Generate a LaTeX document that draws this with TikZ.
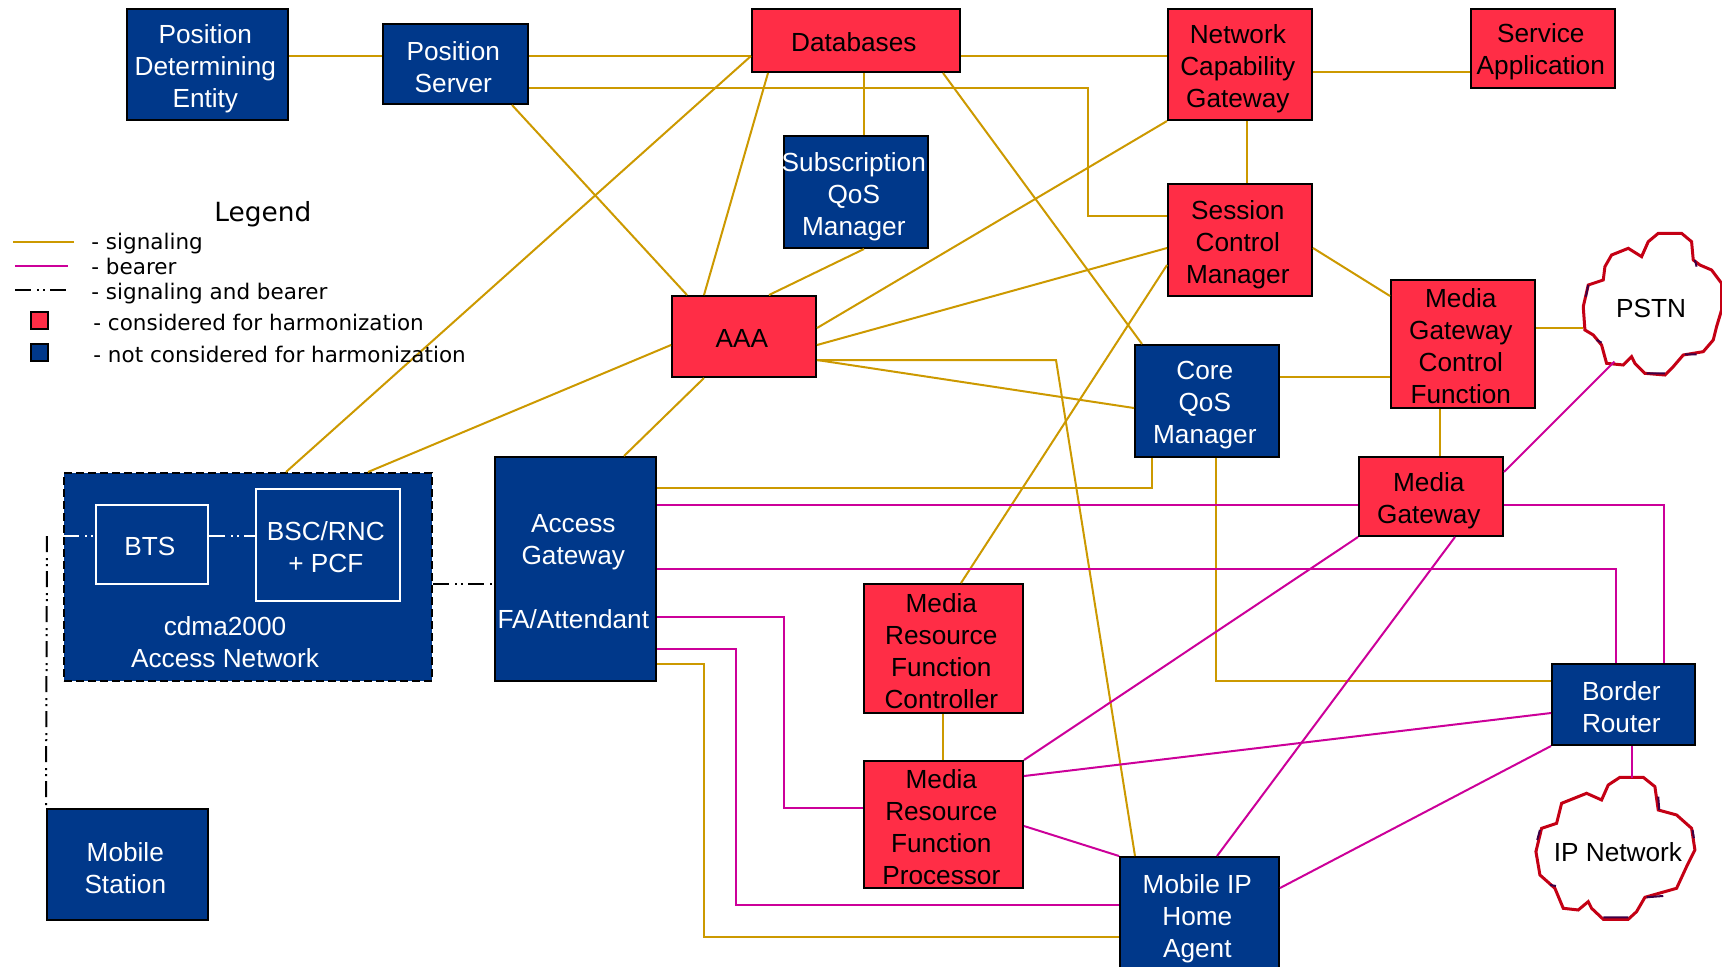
\documentclass[tikz,border=0pt]{standalone}
\usepackage{fontspec}
\setmainfont{Liberation Sans}
\newfontfamily\legendfont{DejaVu Sans}
\usetikzlibrary{positioning, shapes.symbols}
\definecolor{harmred}{RGB}{255,45,70}
\definecolor{harmblue}{RGB}{0,56,138}
\definecolor{siggold}{RGB}{204,153,0}
\definecolor{bearpink}{RGB}{204,0,153}
\definecolor{cloudred}{RGB}{196,0,20}
\definecolor{clouddark}{RGB}{60,0,70}
\newsavebox\boxtextbin
\begin{document}
\begin{tikzpicture}[x=0.5pt, y=-0.5pt,
    boxsize/.style 2 args={minimum width=#1*0.5pt, minimum height=#2*0.5pt},
    main node/.style={rectangle, draw=black, line width=1pt, align=center, inner sep=0pt, font=\fontsize{13.1}{16}\selectfont},
    text drop/.store in=\textdrop,
    nudged/.style={text drop=3.3pt, % text sits low and left in the boxes
        execute at begin node={\setbox\boxtextbin=\hbox\bgroup},
        execute at end node={\egroup\ht\boxtextbin=\dimexpr\ht\boxtextbin+\textdrop\relax\kern-2.2pt\box\boxtextbin}},
    red node/.style={main node, nudged, fill=harmred},
    blue node/.style={main node, nudged, fill=harmblue, text=white},
    inner node/.style={main node, nudged, draw=white, text=white},
    cloud node/.style={cloud, cloud puffs=9, aspect=1, inner sep=0pt, font=\fontsize{13.1}{16}\selectfont},
    cloud edge/.style={draw=cloudred, line width=1.5pt, x=0.5pt/3, y=-0.5pt/3},
    cloud patch/.style={draw=clouddark, line width=1pt, x=0.5pt/3, y=-0.5pt/3},
    legend text/.style={anchor=west, inner sep=0pt, font=\legendfont\fontsize{10.75}{13}\selectfont},
    signaling/.style={draw=siggold, line width=1pt},
    bearer/.style={draw=bearpink, line width=1pt},
    both line/.style={draw=black, line width=1pt, dash pattern=on 8pt off 3pt on 1pt off 2pt on 1pt off 2.5pt},
    both inner/.style={both line, draw=white}]
    \useasboundingbox (0,0) rectangle (1722,966);

    % top row
    \node[blue node, boxsize={161}{111}, text drop=4.4pt] (PDE) at (207.5,64.5) {Position\\Determining\\Entity};
    \node[blue node, boxsize={145}{80}] (PS) at (455.5,64) {Position\\Server};
    \node[red node, boxsize={208}{63}, text drop=1.6pt] (DB) at (856,40.5) {Databases};
    \node[red node, boxsize={144}{111}, text drop=4.4pt] (NCG) at (1240,64.5) {Network\\Capability\\Gateway};
    \node[red node, boxsize={144}{79}] (SA) at (1543,48.5) {Service\\Application};
    % middle
    \node[blue node, boxsize={144}{112}, text drop=4.4pt] (SQM) at (856,192) {Subscription\\QoS\\Manager};
    \node[red node, boxsize={144}{112}, text drop=4.4pt] (SCM) at (1240,240) {Session\\Control\\Manager};
    \node[red node, boxsize={144}{128}, text drop=2.2pt] (MGCF) at (1463,344) {Media\\Gateway\\Control\\Function};
    \node[red node, boxsize={144}{81}, text drop=1.6pt] (AAA) at (744,336.5) {AAA};
    \node[blue node, boxsize={144}{112}, text drop=4.4pt] (CQM) at (1207,401) {Core\\QoS\\Manager};
    \node[red node, boxsize={144}{79}, text drop=4.4pt] (MG) at (1431,496.5) {Media\\Gateway};
    \node[blue node, boxsize={161}{224}, text drop=2.2pt] (AG) at (575.5,569) {Access\\Gateway\\ \\FA/Attendant};
    % access network
    \node[blue node, boxsize={368}{208}, dash pattern=on 4pt off 2pt] (CAN) at (248,577) {};
    \node[inner node, boxsize={112}{79}, text drop=2.2pt] (BTS) at (152,544.5) {BTS};
    \node[inner node, boxsize={144}{112}, text drop=2.2pt] (BSC) at (328,545) {BSC/RNC\\+ PCF};
    \node[main node, draw=none, text=white] (CANtext) at (225,642) {cdma2000\\Access Network};
    % bottom
    \node[red node, boxsize={159}{129}, text drop=2.2pt] (MRFC) at (943.5,648.5) {Media\\Resource\\Function\\Controller};
    \node[red node, boxsize={159}{127}, text drop=2.2pt] (MRFP) at (943.5,824.5) {Media\\Resource\\Function\\Processor};
    \node[blue node, boxsize={143}{81}, text drop=2.2pt] (BR) at (1623.5,704.5) {Border\\Router};
    \node[blue node, boxsize={161}{111}] (MS) at (127.5,864.5) {Mobile\\Station};
    \node[blue node, boxsize={159}{116}] (MIP) at (1199.5,915) {Mobile IP\\Home\\Agent};
    % clouds, outlines traced by hand
    \node[cloud node, minimum width=70pt, minimum height=72pt] (PSTN) at (1651,308) {\makebox[0pt]{PSTN}};
    \node[cloud node, minimum width=81pt, minimum height=74pt] (IPN) at (1618,852) {\makebox[0pt]{IP Network}};
    \draw[cloud edge, shift={(4500,630)}] (475,70) -- (545,70) -- (575,95) -- (580,150) -- (600,165) -- (635,180) -- (665,220) -- (665,300) -- (650,350) -- (640,390) -- (610,425) -- (550,435) -- (520,470) -- (495,495) -- (435,490) -- (405,460) -- (395,440) -- (370,465) -- (320,460) -- (305,405) -- (280,375) -- (255,360) -- (250,290) -- (265,225) -- (310,210) -- (315,170) -- (335,135) -- (385,115) -- (425,140) -- (445,95) -- cycle;
    \draw[cloud patch, shift={(4500,630)}] (440,490) -- (495,490) (290,390) -- (305,398) (585,150) -- (590,170) (555,433) -- (590,433) (265,225) -- (258,260);
    \draw[cloud edge, shift={(4560,2280)}] (300,52) -- (370,52) -- (405,80) -- (415,150) -- (470,165) -- (515,205) -- (525,270) -- (500,320) -- (470,385) -- (375,412) -- (350,455) -- (325,478) -- (250,478) -- (215,445) -- (205,425) -- (175,450) -- (130,445) -- (105,385) -- (60,345) -- (48,275) -- (65,205) -- (110,190) -- (125,130) -- (200,100) -- (245,120) -- (265,75) -- cycle;
    \draw[cloud patch, shift={(4560,2280)}] (250,472) -- (325,472) (90,375) -- (108,378) (415,110) -- (418,150) (60,210) -- (52,240) (380,412) -- (430,408) (518,210) -- (522,235);
    \coordinate (MSend) at (47,536);

    % signaling
    \path[signaling]
        (PDE.east |- 0,56) edge (PS.west |- 0,56)
        (PS.east |- 0,56) edge (DB.west |- 0,56)
        (PS.south -| 512,0) edge (AAA.north -| 687,0)
        (DB.west |- 0,56) edge (CAN.north -| 286,0)
        (DB.south -| 768,0) edge (AAA.north -| 704,0)
        (DB.south -| 864,0) edge (SQM.north -| 864,0)
        (DB.east |- 0,56) edge (NCG.west |- 0,56)
        (DB.south -| 943,0) edge (CQM.north -| 1142,0)
        (NCG.east |- 0,72) edge (SA.west |- 0,72)
        (NCG.south -| 1247,0) edge (SCM.north -| 1247,0)
        (NCG.south west) edge (AAA.east |- 0,328)
        (SCM.west |- 0,248) edge (AAA.east |- 0,345)
        (SCM.west |- 0,265) edge (MRFC.north -| 961,0)
        (SCM.east |- 0,248) edge (MGCF.west |- 0,296)
        (MGCF.east |- 0,328) edge (PSTN.west |- 0,328)
        (CQM.east |- 0,377) edge (MGCF.west |- 0,377)
        (MGCF.south -| 1440,0) edge (MG.north -| 1440,0)
        (SQM.south -| 864,0) edge (AAA.north -| 769,0)
        (AAA.east |- 0,360) edge (CQM.west |- 0,408)
        (AAA.west |- 0,345) edge (CAN.north -| 368,0)
        (AAA.south -| 704,0) edge (AG.north -| 624,0)
        (MRFC.south -| 943,0) edge (MRFP.north -| 943,0);
    \draw[signaling] (PS.east |- 0,88) -- (1088,88) -- (1088,216) -- (SCM.west |- 0,216);
    \draw[signaling] (AAA.east |- 0,360) -- (1056,360) -- (MIP.north -| 1135,0);
    \draw[signaling] (AG.east |- 0,488) -- (1152,488) -- (CQM.south -| 1152,0);
    \draw[signaling] (CQM.south -| 1216,0) -- (1216,681) -- (BR.west |- 0,681);
    \draw[signaling] (AG.east |- 0,664) -- (704,664) -- (704,937) -- (MIP.west |- 0,937);

    % bearer
    \path[bearer]
        (AG.east |- 0,505) edge (MG.west |- 0,505)
        (MG.south west) edge (MRFP.north east)
        (MG.south -| 1455,0) edge (MIP.north -| 1217,0)
        (MG.east |- 0,472) edge ([shift={(1,5.5)}]PSTN.232)
        (MRFP.east |- 0,776) edge (BR.west |- 0,713)
        (MRFP.east |- 0,826) edge (MIP.north west)
        (BR.south west) edge (MIP.east |- 0,888)
        (BR.south -| 1632,0) edge (IPN.north -| 1632,0);
    \draw[bearer] (MG.east |- 0,505) -- (1664,505) -- (BR.north -| 1664,0);
    \draw[bearer] (AG.east |- 0,569) -- (1616,569) -- (BR.north -| 1616,0);
    \draw[bearer] (AG.east |- 0,617) -- (784,617) -- (784,808) -- (MRFP.west |- 0,808);
    \draw[bearer] (AG.east |- 0,649) -- (736,649) -- (736,905) -- (MIP.west |- 0,905);

    % signaling and bearer
    \draw[both line] (CAN.east |- 0,584) -- (AG.west |- 0,584);
    \draw[both line] (MSend) -- (MS.north west);
    \draw[both inner] (CAN.west |- 0,536) -- (BTS.west |- 0,536);
    \draw[both inner] (BTS.east |- 0,536) -- (BSC.west |- 0,536);

    % legend
    \node[legend text, font=\legendfont\fontsize{13.2}{16}\selectfont] (LG) at (214,214) {Legend};
    \node[legend text] (L1) at (91,244) {- signaling};
    \node[legend text] (L2) at (91,266) {- bearer};
    \node[legend text] (L3) at (91,294) {- signaling and bearer};
    \node[legend text] (L4) at (93,322) {- considered for harmonization};
    \node[legend text] (L5) at (93,354) {- not considered for harmonization};
    \draw[signaling] (13,242) -- (74,242);
    \draw[bearer] (15,266) -- (68,266);
    \draw[both line] (15,290) -- (68,290);
    \node[red node, boxsize={17}{17}] (Lred) at (39.5,320.5) {};
    \node[blue node, boxsize={17}{17}] (Lblue) at (39.5,352.5) {};
\end{tikzpicture}
\end{document}
